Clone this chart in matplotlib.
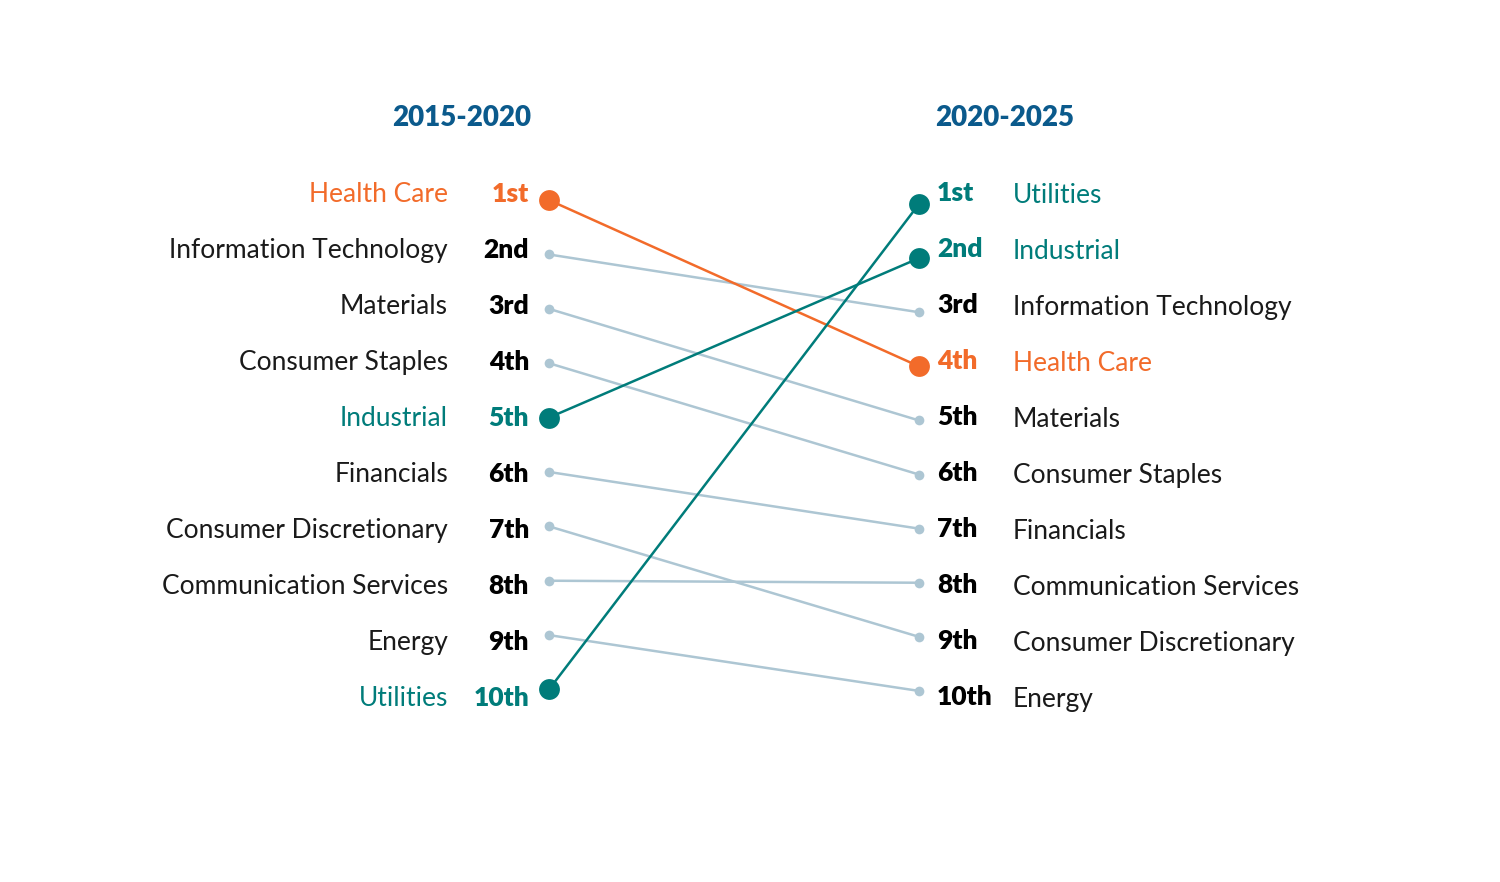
import matplotlib.pyplot as plt
from matplotlib import font_manager

sectors_2015 = ['Health Care', 'Information Technology', 'Materials', 'Consumer Staples',
                'Industrial', 'Financials', 'Consumer Discretionary',
                'Communication Services', 'Energy', 'Utilities']
sectors_2020 = ['Utilities', 'Industrial', 'Information Technology', 'Health Care',
                'Materials', 'Consumer Staples', 'Financials', 'Communication Services',
                'Consumer Discretionary', 'Energy']
rank_labels = ['1st', '2nd', '3rd', '4th', '5th', '6th', '7th', '8th', '9th', '10th']
periods = ['2015-2020', '2020-2025']

highlight = {'Health Care': '#f26b2a', 'Industrial': '#007c7a', 'Utilities': '#007c7a'}
grey = '#adc6d3'
title_col = '#0b5a8c'

names = [f.name for f in font_manager.fontManager.ttflist]
fam = 'Lato' if 'Lato' in names else 'DejaVu Sans'
plt.rcParams['font.family'] = [fam, 'DejaVu Sans']

fig = plt.figure(figsize=(15, 8.82), dpi=100)
ax = fig.add_axes([0, 0, 1, 1])
ax.set_xlim(0, 1500)
ax.set_ylim(13.32, -2.43)
ax.axis('off')

xl, xr = 549, 919


def dot_y(r, side):
    # dots sit on a slightly tighter grid than the text rows
    if side == 0:
        return 1.143 + (r - 1) * 0.971
    return 1.214 + (r - 1) * 0.966


for i, s in enumerate(sectors_2015):
    r1 = i + 1
    r2 = sectors_2020.index(s) + 1
    c = highlight.get(s, grey)
    big = s in highlight
    ys = [dot_y(r1, 0), dot_y(r2, 1)]
    ax.plot([xl, xr], ys, color=c, lw=1.8, zorder=3 if big else 2,
            solid_capstyle='round')
    ax.plot([xl, xr], ys, 'o', color=c, ms=15 if big else 7,
            mec='none', zorder=4 if big else 2)

for i, s in enumerate(sectors_2015):
    c = highlight.get(s, '#1a1a1a')
    ax.text(448, i + 1.04, s, ha='right', va='center', fontsize=19, color=c)
    ax.text(529, i + 1.03, rank_labels[i], ha='right', va='center', fontsize=19,
            color=highlight.get(s, '#000000'), fontweight='heavy')

for i, s in enumerate(sectors_2020):
    c = highlight.get(s, '#1a1a1a')
    ax.text(1013, i + 1.06, s, ha='left', va='center', fontsize=19, color=c)
    ax.text(937, i + 1.01, rank_labels[i], ha='left', va='center', fontsize=19,
            color=highlight.get(s, '#000000'), fontweight='heavy')

ax.text(462, -0.33, periods[0], ha='center', va='center', fontsize=20,
        color=title_col, fontweight='heavy')
ax.text(1005, -0.33, periods[1], ha='center', va='center', fontsize=20,
        color=title_col, fontweight='heavy')

fig.savefig('out.png', dpi=100, facecolor='white')
